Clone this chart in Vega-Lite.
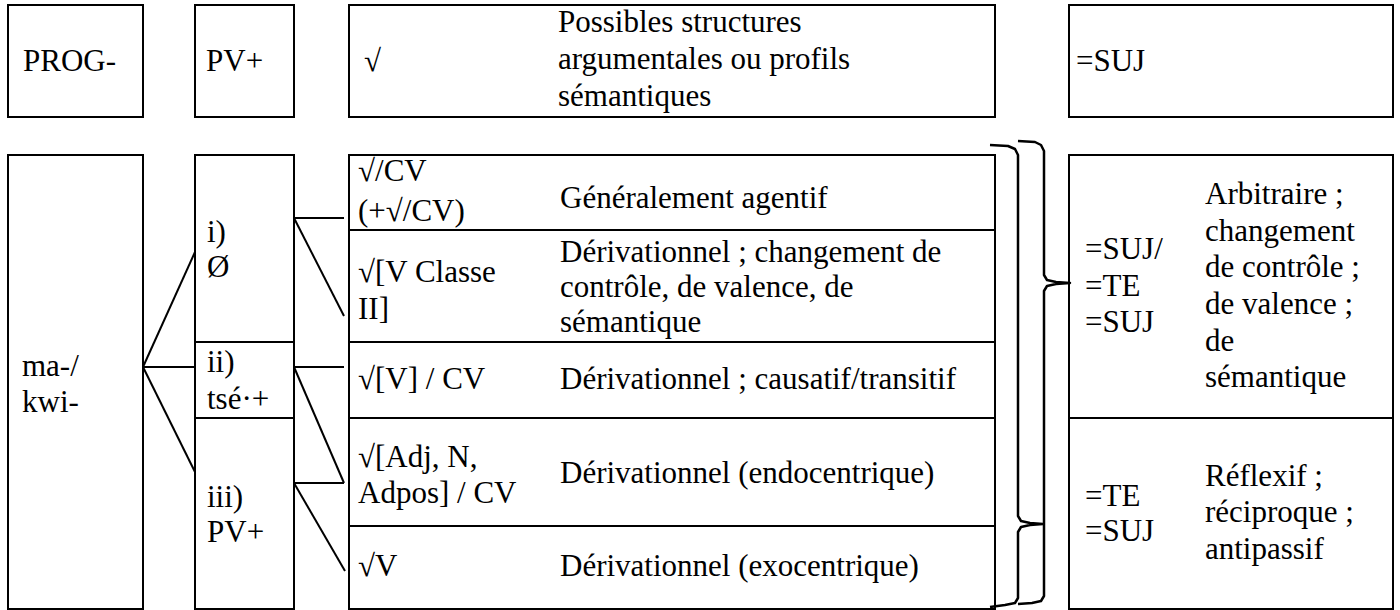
{
  "$schema": "https://vega.github.io/schema/vega-lite/v6.json",
  "width": 1400,
  "height": 610,
  "padding": 0,
  "autosize": {"type": "fit", "contains": "padding"},
  "background": "white",
  "config": {"view": {"stroke": null}},
  "datasets": {
    "boxes": [
      {"x": 8, "x2": 143, "y": 5, "y2": 117},
      {"x": 195, "x2": 294, "y": 5, "y2": 117},
      {"x": 349, "x2": 995, "y": 5, "y2": 117},
      {"x": 1069, "x2": 1393, "y": 5, "y2": 117},
      {"x": 8, "x2": 143, "y": 155, "y2": 609},
      {"x": 195, "x2": 294, "y": 155, "y2": 342},
      {"x": 195, "x2": 294, "y": 342, "y2": 418},
      {"x": 195, "x2": 294, "y": 418, "y2": 609},
      {"x": 349, "x2": 995, "y": 155, "y2": 230},
      {"x": 349, "x2": 995, "y": 230, "y2": 342},
      {"x": 349, "x2": 995, "y": 342, "y2": 418},
      {"x": 349, "x2": 995, "y": 418, "y2": 526},
      {"x": 349, "x2": 995, "y": 526, "y2": 609},
      {"x": 1069, "x2": 1393, "y": 155, "y2": 418},
      {"x": 1069, "x2": 1393, "y": 418, "y2": 609}
    ],
    "links": [
      {"x": 143, "y": 367, "x2": 195, "y2": 252},
      {"x": 143, "y": 367, "x2": 195, "y2": 367},
      {"x": 143, "y": 367, "x2": 195, "y2": 472},
      {"x": 294, "y": 218, "x2": 344, "y2": 218},
      {"x": 294, "y": 218, "x2": 344, "y2": 316},
      {"x": 294, "y": 367, "x2": 344, "y2": 367},
      {"x": 294, "y": 367, "x2": 344, "y2": 483},
      {"x": 294, "y": 483, "x2": 344, "y2": 483},
      {"x": 294, "y": 483, "x2": 345, "y2": 571}
    ],
    "braces": [
      {"b": "A", "i": 1, "x": 990, "y": 145},
      {"b": "A", "i": 2, "x": 1008, "y": 146},
      {"b": "A", "i": 3, "x": 1015, "y": 149},
      {"b": "A", "i": 4, "x": 1018, "y": 155},
      {"b": "A", "i": 5, "x": 1018, "y": 516},
      {"b": "A", "i": 6, "x": 1021, "y": 521},
      {"b": "A", "i": 7, "x": 1030, "y": 523},
      {"b": "A", "i": 8, "x": 1043, "y": 524},
      {"b": "A", "i": 9, "x": 1030, "y": 525},
      {"b": "A", "i": 10, "x": 1021, "y": 527},
      {"b": "A", "i": 11, "x": 1018, "y": 532},
      {"b": "A", "i": 12, "x": 1018, "y": 598},
      {"b": "A", "i": 13, "x": 1015, "y": 603},
      {"b": "A", "i": 14, "x": 1005, "y": 605},
      {"b": "A", "i": 15, "x": 990, "y": 607},
      {"b": "B", "i": 1, "x": 1018, "y": 141},
      {"b": "B", "i": 2, "x": 1035, "y": 142},
      {"b": "B", "i": 3, "x": 1041, "y": 145},
      {"b": "B", "i": 4, "x": 1044, "y": 151},
      {"b": "B", "i": 5, "x": 1044, "y": 275},
      {"b": "B", "i": 6, "x": 1047, "y": 280},
      {"b": "B", "i": 7, "x": 1056, "y": 282},
      {"b": "B", "i": 8, "x": 1070, "y": 283},
      {"b": "B", "i": 9, "x": 1056, "y": 284},
      {"b": "B", "i": 10, "x": 1047, "y": 286},
      {"b": "B", "i": 11, "x": 1044, "y": 291},
      {"b": "B", "i": 12, "x": 1044, "y": 596},
      {"b": "B", "i": 13, "x": 1041, "y": 601},
      {"b": "B", "i": 14, "x": 1032, "y": 603},
      {"b": "B", "i": 15, "x": 1018, "y": 604}
    ],
    "labels": [
      {"x": 23, "y": 62, "t": "PROG-"},
      {"x": 206, "y": 62, "t": "PV+"},
      {"x": 364, "y": 62, "t": "√"},
      {"x": 558, "y": 23, "t": "Possibles structures"},
      {"x": 558, "y": 60, "t": "argumentales ou profils"},
      {"x": 558, "y": 97, "t": "sémantiques"},
      {"x": 1076, "y": 62, "t": "=SUJ"},
      {"x": 22, "y": 367, "t": "ma-/"},
      {"x": 22, "y": 403, "t": "kwi-"},
      {"x": 207, "y": 233, "t": "i)"},
      {"x": 207, "y": 268, "t": "Ø"},
      {"x": 207, "y": 363, "t": "ii)"},
      {"x": 207, "y": 400, "t": "tsé·+"},
      {"x": 207, "y": 498, "t": "iii)"},
      {"x": 207, "y": 533, "t": "PV+"},
      {"x": 358, "y": 172, "t": "√/CV"},
      {"x": 358, "y": 212, "t": "(+√/CV)"},
      {"x": 560, "y": 199, "t": "Généralement agentif"},
      {"x": 358, "y": 273, "t": "√[V Classe"},
      {"x": 358, "y": 310, "t": "II]"},
      {"x": 560, "y": 253, "t": "Dérivationnel ; changement de"},
      {"x": 560, "y": 288, "t": "contrôle, de valence, de"},
      {"x": 560, "y": 323, "t": "sémantique"},
      {"x": 358, "y": 380, "t": "√[V] / CV"},
      {"x": 560, "y": 380, "t": "Dérivationnel ; causatif/transitif"},
      {"x": 358, "y": 458, "t": "√[Adj, N,"},
      {"x": 358, "y": 494, "t": "Adpos] / CV"},
      {"x": 560, "y": 474, "t": "Dérivationnel (endocentrique)"},
      {"x": 358, "y": 567, "t": "√V"},
      {"x": 560, "y": 567, "t": "Dérivationnel (exocentrique)"},
      {"x": 1085, "y": 250, "t": "=SUJ/"},
      {"x": 1085, "y": 287, "t": "=TE"},
      {"x": 1085, "y": 323, "t": "=SUJ"},
      {"x": 1205, "y": 195, "t": "Arbitraire ;"},
      {"x": 1205, "y": 232, "t": "changement"},
      {"x": 1205, "y": 268, "t": "de contrôle ;"},
      {"x": 1205, "y": 305, "t": "de valence ;"},
      {"x": 1205, "y": 342, "t": "de"},
      {"x": 1205, "y": 378, "t": "sémantique"},
      {"x": 1085, "y": 497, "t": "=TE"},
      {"x": 1085, "y": 532, "t": "=SUJ"},
      {"x": 1205, "y": 477, "t": "Réflexif ;"},
      {"x": 1205, "y": 513, "t": "réciproque ;"},
      {"x": 1205, "y": 550, "t": "antipassif"}
    ]
  },
  "layer": [
    {
      "data": {"name": "boxes"},
      "mark": {"type": "rect", "fill": "white", "stroke": "black", "strokeWidth": 2},
      "encoding": {
        "x": {"field": "x", "type": "quantitative", "axis": null, "scale": {"domain": [0, 1400], "nice": false, "zero": false}},
        "x2": {"field": "x2"},
        "y": {"field": "y", "type": "quantitative", "axis": null, "scale": {"domain": [0, 610], "nice": false, "zero": false, "reverse": true}},
        "y2": {"field": "y2"}
      }
    },
    {
      "data": {"name": "links"},
      "mark": {"type": "rule", "stroke": "black", "strokeWidth": 2},
      "encoding": {
        "x": {"field": "x", "type": "quantitative"},
        "x2": {"field": "x2"},
        "y": {"field": "y", "type": "quantitative"},
        "y2": {"field": "y2"}
      }
    },
    {
      "data": {"name": "braces"},
      "mark": {"type": "line", "stroke": "black", "strokeWidth": 2.5, "strokeJoin": "round", "interpolate": "linear"},
      "encoding": {
        "x": {"field": "x", "type": "quantitative"},
        "y": {"field": "y", "type": "quantitative"},
        "detail": {"field": "b"},
        "order": {"field": "i", "type": "quantitative"}
      }
    },
    {
      "data": {"name": "labels"},
      "mark": {"type": "text", "align": "left", "baseline": "middle", "font": "Liberation Serif, Times New Roman, DejaVu Serif, serif", "fontSize": 31, "color": "black"},
      "encoding": {
        "x": {"field": "x", "type": "quantitative"},
        "y": {"field": "y", "type": "quantitative"},
        "text": {"field": "t"}
      }
    }
  ]
}
